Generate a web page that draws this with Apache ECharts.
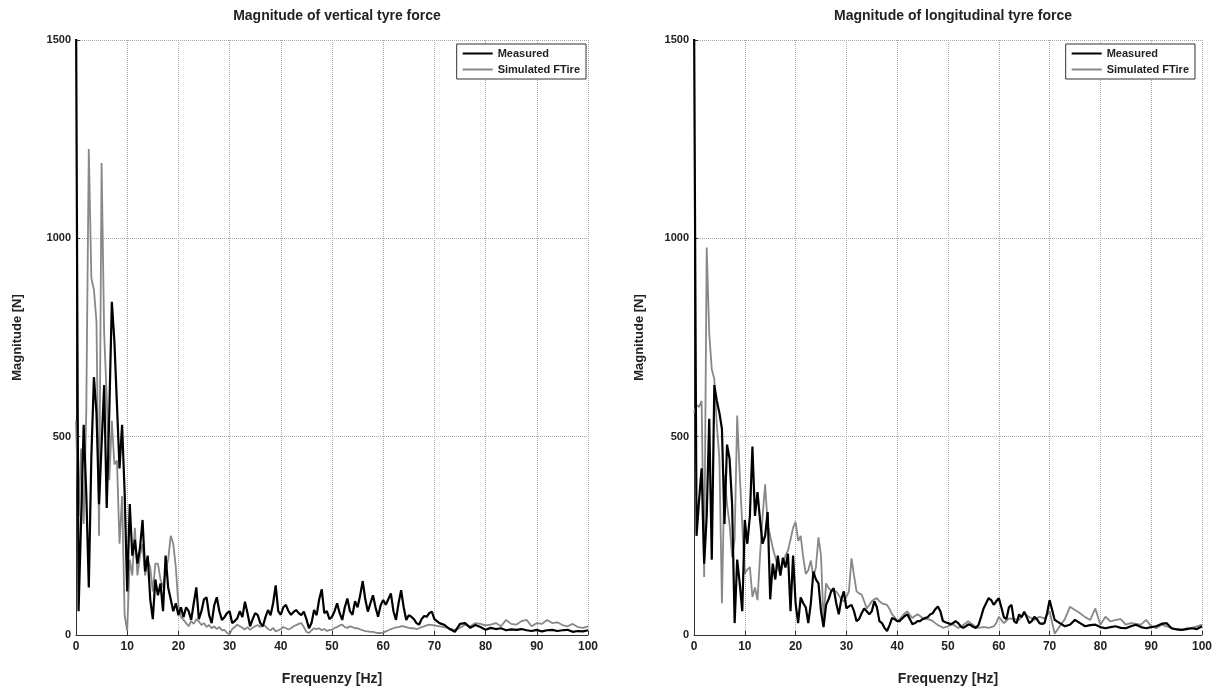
<!DOCTYPE html>
<html>
<head>
<meta charset="utf-8">
<script src="https://cdn.jsdelivr.net/npm/echarts@6/dist/echarts.min.js"></script>
<style>
html,body{margin:0;padding:0;background:#fff;}
#c{width:1219px;height:691px;}
</style>
</head>
<body>
<div id="c"></div>
<script>
// Frequency grid [Hz]
const freq = [0,0.5,1,1.5,2,2.5,3,3.5,4,4.5,5,5.5,6,6.5,7,7.5,8,8.5,9,9.5,
10,10.5,11,11.5,12,12.5,13,13.5,14,14.5,15,15.5,16,16.5,17,17.5,18,18.5,19,19.5,
20,20.5,21,21.5,22,22.5,23,23.5,24,24.5,25,25.5,26,26.5,27,27.5,28,28.5,29,29.5,
30,30.5,31,31.5,32,32.5,33,33.5,34,34.5,35,35.5,36,36.5,37,37.5,38,38.5,39,39.5,
40,40.5,41,41.5,42,42.5,43,43.5,44,44.5,45,45.5,46,46.5,47,47.5,48,48.5,49,49.5,
50,50.5,51,51.5,52,52.5,53,53.5,54,54.5,55,55.5,56,56.5,57,57.5,58,58.5,59,59.5,
60,60.5,61,61.5,62,62.5,63,63.5,64,64.5,65,65.5,66,66.5,67,67.5,68,68.5,69,69.5,70,
71,72,73,74,75,76,77,78,79,80,81,82,83,84,85,86,87,88,89,90,
91,92,93,94,95,96,97,98,99,100];

// Vertical tyre force [N]
const vertMeasured = [1600,60,290,530,360,120,450,650,560,330,
480,630,320,560,840,740,580,420,530,360,
110,330,200,240,180,220,290,160,200,90,
40,140,100,130,60,200,120,90,60,80,
50,70,45,70,60,38,80,120,40,60,
90,95,50,30,75,95,60,38,45,55,
60,30,35,42,60,45,84,55,22,40,55,50,30,22,45,63,50,80,125,60,
51,70,76,60,51,58,63,55,50,59,40,17,30,63,50,90,115,55,60,40,
46,60,80,55,38,70,92,60,51,85,70,100,136,90,59,80,100,70,46,75,
88,76,90,105,60,38,80,113,70,38,50,46,40,30,26,40,48,46,55,59,40,
30,25,15,8,28,30,18,25,20,13,
18,15,17,12,14,13,15,12,10,13,
9,12,13,10,12,13,8,10,9,12];

const vertSimulated = [540,300,470,280,560,1225,900,870,790,250,
1190,760,600,390,540,430,440,230,350,50,
10,190,150,270,150,200,230,150,190,170,
110,180,180,140,120,160,190,250,230,170,
75,45,38,30,22,35,28,40,34,25,
30,20,25,17,22,15,20,12,13,5,
2,15,20,26,22,18,14,20,13,18,22,25,20,26,22,15,12,18,9,12,
15,20,17,14,17,22,25,28,30,20,8,5,12,17,15,17,12,15,10,13,
13,18,20,24,26,20,18,22,20,17,17,14,12,10,9,8,8,6,5,5,
6,9,12,15,17,19,20,22,22,20,18,17,17,15,17,20,22,24,26,25,24,
22,20,16,13,18,26,22,30,28,24,
26,30,22,38,28,26,35,38,22,30,
28,38,30,32,25,22,28,20,18,22];

// Longitudinal tyre force [N]
const longMeasured = [1600,250,340,420,180,300,545,190,630,590,
560,520,280,480,445,330,30,190,130,60,
290,230,300,475,300,360,290,230,250,310,
90,180,140,200,150,195,170,205,60,200,
80,30,95,80,70,30,80,160,140,130,
60,20,76,90,110,118,80,52,90,110,
67,72,76,60,35,40,55,67,60,52,60,85,70,35,30,18,10,25,43,40,
35,35,42,48,52,40,27,30,35,35,40,43,45,52,55,65,72,60,35,32,
30,27,30,35,30,22,18,22,27,25,20,18,25,45,67,80,93,88,76,85,
93,70,45,40,70,76,35,30,52,45,59,45,30,35,46,40,30,28,30,55,88,
38,30,22,26,38,30,22,25,26,20,
17,20,22,18,17,22,26,20,17,20,
22,28,30,17,14,13,15,17,15,22];

const longSimulated = [560,580,575,590,146,977,760,670,645,528,
445,80,404,330,279,196,240,553,404,279,
154,165,171,96,120,88,200,300,380,279,
250,220,196,170,154,180,200,213,240,270,
285,237,250,196,154,163,188,147,171,246,
200,35,130,118,113,110,110,100,90,85,
96,110,193,150,110,105,102,85,67,75,85,90,93,85,80,78,76,65,52,45,
35,40,48,55,60,50,43,48,52,48,43,40,40,38,35,30,25,22,18,20,
22,25,27,22,18,20,25,30,35,30,25,20,18,19,20,19,18,20,22,30,
46,38,30,36,42,41,40,39,38,46,55,50,45,42,38,42,46,44,42,50,60,
3,22,40,71,63,55,45,38,67,26,
46,34,38,40,26,30,28,26,38,22,
17,26,22,17,15,13,17,18,22,26];

const titles = ['Magnitude of vertical tyre force', 'Magnitude of longitudinal tyre force'];
const seriesNames = ['Measured', 'Simulated FTire'];
const xName = 'Frequenzy [Hz]';
const yName = 'Magnitude [N]';

const pair = arr => freq.map((f, i) => [f, arr[i]]);
const FONT = "'Liberation Sans Narrow','Liberation Sans',Arial,sans-serif";
const BFONT = "'Liberation Sans',Arial,sans-serif";
const grids = [
  {left: 76, top: 40, width: 512, height: 602},
  {left: 694, top: 40, width: 508, height: 602}
];

function xAx(i) {
  return {
    type: 'value', gridIndex: i, min: 0, max: 100, interval: 10,
    name: xName, nameLocation: 'middle', nameGap: 37,
    nameTextStyle: {fontFamily: BFONT, fontWeight: 'bold', fontSize: 14, color: '#222'},
    axisLine: {show: true, onZero: false, lineStyle: {color: '#333', width: 1}},
    axisTick: {show: true, inside: true, length: 4, lineStyle: {color: '#333'}},
    axisLabel: {fontFamily: FONT, fontWeight: 'bold', fontSize: 12, color: '#222', margin: 6,
                formatter: v => String(v)},
    splitLine: {show: true, lineStyle: {type: 'dotted', color: '#aaa', width: 1}}
  };
}
function yAx(i, gap) {
  return {
    type: 'value', gridIndex: i, min: 0, max: 1500, interval: 500,
    name: yName, nameLocation: 'middle', nameGap: gap, nameRotate: 90,
    nameTextStyle: {fontFamily: BFONT, fontWeight: 'bold', fontSize: 13, color: '#222'},
    axisLine: {show: true, lineStyle: {color: '#333', width: 1}},
    axisTick: {show: true, inside: true, length: 4, lineStyle: {color: '#333'}},
    axisLabel: {fontFamily: FONT, fontWeight: 'bold', fontSize: 11, color: '#222', margin: 5,
                formatter: v => String(v)},
    splitLine: {show: true, lineStyle: {type: 'dotted', color: '#aaa', width: 1}}
  };
}
function ser(name, data, i, color, width, z) {
  return {
    type: 'line', name: name, xAxisIndex: i, yAxisIndex: i,
    data: pair(data), showSymbol: false, symbol: 'none', animation: false,
    clip: true, z: z,
    lineStyle: {color: color, width: width}, itemStyle: {color: color}
  };
}
function legend(right) {
  return {
    orient: 'vertical', right: right, top: 44,
    data: [{name: seriesNames[0], itemStyle: {color: '#000'}}, {name: seriesNames[1], itemStyle: {color: '#888'}}],
    icon: 'rect', itemWidth: 30, itemHeight: 2, itemGap: 5,
    backgroundColor: '#fff', borderColor: '#333', borderWidth: 1,
    padding: [4, 6, 4, 6],
    textStyle: {fontFamily: FONT, fontWeight: 'bold', fontSize: 11, color: '#222'},
    selectedMode: false
  };
}

const chart = echarts.init(document.getElementById('c'), null, {renderer: 'canvas'});
chart.setOption({
  animation: false,
  backgroundColor: '#fff',
  title: [
    {text: titles[0], left: 332, top: 4, textAlign: 'center',
     textStyle: {fontFamily: BFONT, fontWeight: 'bold', fontSize: 14, color: '#222'}},
    {text: titles[1], left: 948, top: 4, textAlign: 'center',
     textStyle: {fontFamily: BFONT, fontWeight: 'bold', fontSize: 14, color: '#222'}}
  ],
  legend: [legend(633), legend(24)],
  grid: grids,
  xAxis: [xAx(0), xAx(1)],
  yAxis: [yAx(0, 52), yAx(1, 48)],
  series: [
    ser(seriesNames[1], vertSimulated, 0, '#888', 1.8, 2),
    ser(seriesNames[0], vertMeasured, 0, '#000', 2.2, 3),
    ser(seriesNames[1], longSimulated, 1, '#888', 1.8, 2),
    ser(seriesNames[0], longMeasured, 1, '#000', 2.2, 3)
  ]
});
</script>
</body>
</html>
